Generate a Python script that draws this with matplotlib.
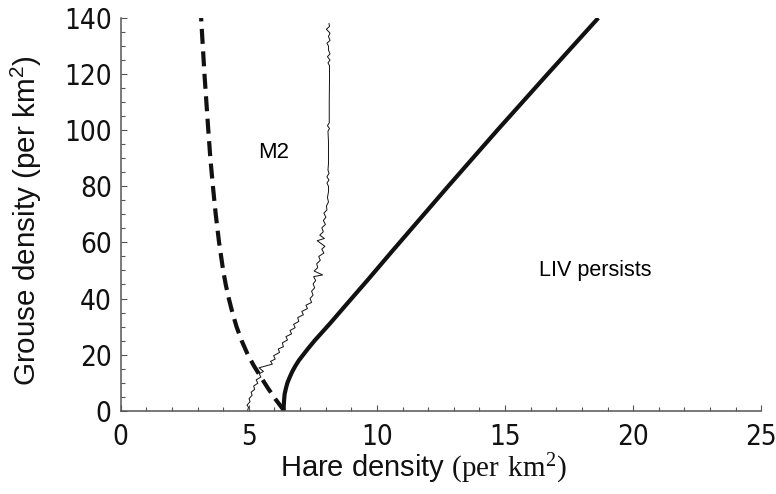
import matplotlib
matplotlib.use("Agg")
import matplotlib.pyplot as plt
from matplotlib import font_manager
from matplotlib.ticker import MultipleLocator

plt.rcParams.update({
    "font.family": "Liberation Sans",
    "mathtext.fontset": "custom",
    "mathtext.rm": "Liberation Serif",
    "mathtext.sf": "Liberation Sans",
})

# look for a narrow sans face for the tick labels, else fall back to a smaller regular one
narrow_file = None
for f in font_manager.fontManager.ttflist:
    wide = str(f.stretch).lower()
    if f.style != "normal" or f.weight not in (400, "normal", "regular"):
        continue
    if "Narrow" in f.name or "Condensed" in f.name or wide in ("condensed", "semi-condensed"):
        if "Serif" not in f.name and "Mono" not in f.name:
            narrow_file = f.fname
            break
tick_size = 20 if narrow_file else 18

# dashed boundary (left)
dashed_y = [0, 4, 8, 12, 16, 20, 25, 30, 35, 40, 45, 50, 60, 70, 80, 90, 100, 120, 140]
dashed_x = [6.38, 6.05, 5.75, 5.47, 5.2, 4.96, 4.72, 4.52, 4.36, 4.22, 4.1, 4.0, 3.84,
            3.71, 3.6, 3.5, 3.42, 3.27, 3.14]

# solid boundary (right)
solid_y = [0, 2, 4, 6, 8, 10, 12, 14, 16, 18, 20, 22, 25, 31.2, 38.3, 46.6, 56.7, 80, 100, 120, 140]
solid_x = [6.36, 6.365, 6.38, 6.4, 6.45, 6.51, 6.6, 6.7, 6.82, 6.96, 7.13, 7.3, 7.57,
           8.18, 8.85, 9.64, 10.58, 12.78, 14.7, 16.66, 18.64]

# M2 simulated trace
m2_x = [4.95, 4.99, 4.93, 5.05, 5.01, 5.13, 5.09, 5.23, 5.19, 5.35, 5.29, 5.47, 5.41, 5.57,
        5.40, 5.92, 5.85, 6.03, 5.97, 6.20, 6.15, 6.35, 6.31, 6.51, 6.45, 6.67, 6.61, 6.81,
        6.75, 6.95, 6.91, 7.13, 7.07, 7.29, 7.23, 7.45, 7.39, 7.51, 7.45, 7.57, 7.51, 7.61,
        7.53, 7.88, 7.55, 7.69, 7.65, 7.79, 7.73, 7.93, 7.85, 7.97, 7.67, 7.95, 7.77, 7.91,
        7.85, 7.99, 7.91, 8.01, 7.93, 8.05, 8.03, 8.11, 8.07, 8.11, 8.11, 8.05, 8.13, 8.05,
        8.13, 8.09, 8.11, 8.11, 8.11, 8.09, 8.15, 8.07, 8.14, 8.14, 8.15, 8.15, 8.09, 8.17,
        8.07, 8.17, 8.11, 8.11, 8.05, 8.17, 8.11, 8.17, 8.03, 8.15, 8.13]
m2_y = [0.0, 1.2, 2.0, 3.2, 4.3, 5.5, 6.6, 7.6, 8.8, 9.8, 11.0, 12.0, 13.2, 14.0,
        15.3, 16.6, 17.6, 18.4, 19.6, 20.8, 22.0, 22.8, 24.2, 25.2, 26.4, 27.4, 28.6, 29.6,
        30.8, 31.8, 33.2, 34.2, 35.4, 36.4, 37.6, 38.6, 40.0, 41.2, 42.6, 43.8, 45.2, 46.4,
        47.8, 48.4, 49.8, 51.0, 52.4, 53.6, 55.0, 56.2, 57.6, 58.6, 60.6, 61.4, 62.6, 63.8,
        65.2, 66.4, 67.8, 69.0, 70.4, 71.6, 73.0, 74.4, 76.0, 78.0, 80.0, 81.2, 82.2, 83.4,
        84.6, 85.8, 88.0, 92.0, 96.0, 99.6, 100.6, 101.6, 102.6, 110.0, 118.0, 123.0, 124.0, 125.0,
        126.2, 127.2, 128.6, 130.0, 131.0, 132.0, 133.4, 134.6, 136.0, 137.0, 138.0]

fig = plt.figure(figsize=(7.76, 4.94), dpi=100)
ax = fig.add_axes([0.1555, 0.1686, 0.8255, 0.795])

ax.plot(dashed_x, dashed_y, color="#111111", lw=3.0, dashes=(3.6, 1.8))
ax.plot(solid_x, solid_y, color="#111111", lw=3.0, solid_capstyle="butt", solid_joinstyle="round")
ax.plot(m2_x, m2_y, color="#111111", lw=0.7)

ax.text(5.96, 92, "M2", fontsize=16, ha="center", va="center")
ax.text(18.54, 50, "LIV persists", fontsize=15.5, ha="center", va="center")

ax.set_xlim(0, 25)
ax.set_ylim(0, 140)
ax.xaxis.set_major_locator(MultipleLocator(5))
ax.xaxis.set_minor_locator(MultipleLocator(1))
ax.yaxis.set_major_locator(MultipleLocator(20))
ax.yaxis.set_minor_locator(MultipleLocator(5))

for s in ["top", "right"]:
    ax.spines[s].set_visible(False)
for s in ["left", "bottom"]:
    ax.spines[s].set_color("#555555")
    ax.spines[s].set_linewidth(1.1)

ax.tick_params(which="major", direction="in", length=4.5, width=0.8, color="#555555")
ax.tick_params(which="minor", direction="in", length=2.6, width=0.8, color="#555555")
ax.tick_params(axis="x", which="major", pad=9)
ax.tick_params(axis="y", which="major", pad=6.5)
for lab in ax.get_xticklabels() + ax.get_yticklabels():
    if narrow_file:
        lab.set_fontproperties(font_manager.FontProperties(fname=narrow_file))
    lab.set_fontsize(tick_size)
    lab.set_color("#111111")

ax.set_xlabel(r"Hare density $\mathrm{(per\ km^{2})}$", fontsize=21, color="#111111")
ax.xaxis.set_label_coords(0.473, -0.105)
ax.set_ylabel(r"Grouse density (per km$^{\mathsf{2}}$)", fontsize=21.3, color="#111111")
ax.yaxis.set_label_coords(-0.119, 0.485)

fig.savefig("out.png", dpi=100)
